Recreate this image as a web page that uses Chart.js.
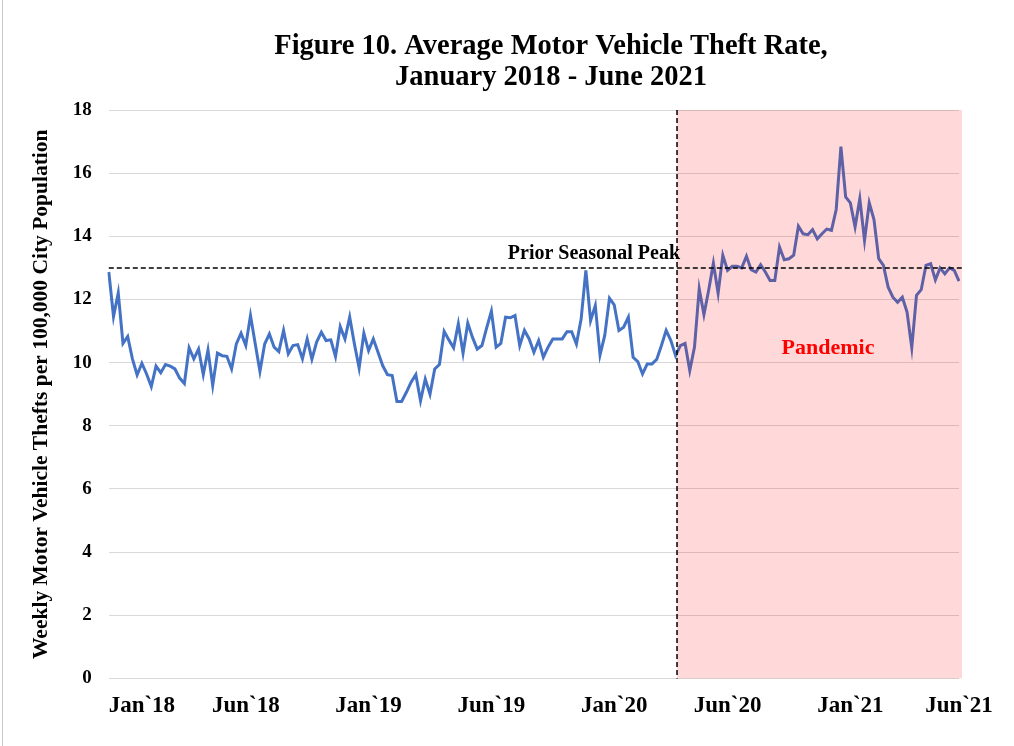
<!DOCTYPE html>
<html>
<head>
<meta charset="utf-8">
<script src="https://cdn.jsdelivr.net/npm/chart.js@4.4.1/dist/chart.umd.min.js"></script>
<style>
  html, body { margin: 0; padding: 0; background: #fff; }
  #wrap { position: relative; width: 1014px; height: 746px; }
</style>
</head>
<body>
<div id="wrap"><canvas id="theftChart"></canvas></div>
<script>
// weekly rate, Jan 2018 - Jun 2021
const rates = [
  12.87, 11.46, 12.21, 10.61, 10.83, 10.12, 9.61, 9.98, 9.64, 9.24,
  9.89, 9.68, 9.94, 9.89, 9.80, 9.51, 9.34, 10.47, 10.12, 10.43,
  9.62, 10.40, 9.28, 10.30, 10.22, 10.20, 9.80, 10.59, 10.93, 10.54,
  11.49, 10.60, 9.72, 10.59, 10.91, 10.49, 10.35, 11.02, 10.28, 10.54,
  10.57, 10.12, 10.75, 10.11, 10.65, 10.96, 10.70, 10.72, 10.19, 11.14,
  10.75, 11.44, 10.59, 9.83, 10.93, 10.38, 10.75, 10.33, 9.90, 9.62,
  9.59, 8.77, 8.77, 9.06, 9.38, 9.62, 8.79, 9.48, 9.00, 9.80,
  9.94, 10.99, 10.72, 10.47, 11.23, 10.30, 11.25, 10.80, 10.43, 10.54,
  11.10, 11.63, 10.49, 10.61, 11.44, 11.42, 11.49, 10.54, 11.02, 10.75,
  10.33, 10.70, 10.17, 10.49, 10.75, 10.75, 10.75, 10.98, 10.98, 10.59,
  11.38, 12.92, 11.33, 11.81, 10.24, 10.86, 12.04, 11.83, 11.02, 11.12,
  11.44, 10.17, 10.03, 9.64, 9.96, 9.96, 10.10, 10.54, 11.02, 10.70,
  10.22, 10.54, 10.61, 9.75, 10.49, 12.34, 11.52, 12.29, 13.15, 12.20,
  13.40, 12.92, 13.05, 13.05, 13.00, 13.37, 12.94, 12.87, 13.10, 12.87,
  12.60, 12.60, 13.66, 13.26, 13.29, 13.40, 14.32, 14.08, 14.05, 14.21,
  13.92, 14.08, 14.23, 14.19, 14.85, 16.84, 15.25, 15.06, 14.30, 15.19,
  13.87, 15.06, 14.53, 13.29, 13.08, 12.39, 12.07, 11.91, 12.07, 11.60,
  10.47, 12.13, 12.31, 13.08, 13.13, 12.62, 13.00, 12.81, 13.00, 12.92,
  12.58
];

const tickLabels = ['Jan`18', 'Jun`18', 'Jan`19', 'Jun`19', 'Jan`20', 'Jun`20', 'Jan`21', 'Jun`21'];
const tickWeeks = [7, 29, 55, 81, 107, 131, 157, 180];

const priorPeak = 13;
const pandemicWeek = 120.3;
const pandemicLabelY = 10.45;

const titleLines = ['Figure 10. Average Motor Vehicle Theft Rate,', 'January 2018 - June 2021'];

const weeks = rates.map((_, i) => {
  const k = tickWeeks.indexOf(i);
  return k >= 0 ? tickLabels[k] : '';
});

const serif = "'Liberation Serif', 'Times New Roman', serif";

const overlays = {
  id: 'overlays',
  beforeDraw(chart) {
    // faint frame edge on the left of the original figure
    const ctx = chart.ctx;
    ctx.save();
    ctx.fillStyle = '#c8c8c8';
    ctx.fillRect(2, 0, 1, chart.height);
    ctx.restore();
  },
  afterDatasetsDraw(chart) {
    const { ctx, chartArea: a, scales: { x, y } } = chart;
    const px = x.getPixelForValue(pandemicWeek);
    const py = y.getPixelForValue(priorPeak);
    ctx.save();
    // shaded pandemic period
    ctx.fillStyle = 'rgba(255, 0, 0, 0.15)';
    ctx.fillRect(px, a.top, a.right + 3 - px, a.bottom - a.top);

    ctx.strokeStyle = '#000';
    ctx.lineWidth = 1.5;
    ctx.setLineDash([5, 3]);
    ctx.beginPath();
    ctx.moveTo(a.left, py);
    ctx.lineTo(a.right + 3, py);
    ctx.moveTo(px, a.top);
    ctx.lineTo(px, a.bottom);
    ctx.stroke();
    ctx.setLineDash([]);

    ctx.fillStyle = '#000';
    ctx.font = 'bold 20px ' + serif;
    ctx.textAlign = 'right';
    ctx.textBaseline = 'bottom';
    ctx.fillText('Prior Seasonal Peak', px + 3, py - 4);

    ctx.fillStyle = '#ff0000';
    ctx.font = 'bold 22px ' + serif;
    ctx.textAlign = 'center';
    ctx.textBaseline = 'middle';
    ctx.fillText('Pandemic', (px + a.right) / 2 + 10, y.getPixelForValue(pandemicLabelY));
    ctx.restore();
  },
  afterDraw(chart) {
    const ctx = chart.ctx;
    ctx.save();
    ctx.fillStyle = '#000';
    ctx.font = 'bold 28.5px ' + serif;
    ctx.textAlign = 'center';
    ctx.textBaseline = 'middle';
    titleLines.forEach((t, i) => ctx.fillText(t, chart.width / 2 + 44, 47 + i * 31));
    ctx.restore();
  }
};

new Chart(document.getElementById('theftChart'), {
  type: 'line',
  data: {
    labels: weeks,
    datasets: [{
      data: rates,
      borderColor: '#4472C4',
      borderWidth: 3,
      pointRadius: 0,
      tension: 0,
      fill: false
    }]
  },
  options: {
    responsive: true,
    maintainAspectRatio: false,
    animation: false,
    layout: { padding: { top: 110, left: 27, right: 55, bottom: 12 } },
    plugins: { legend: { display: false }, tooltip: { enabled: false } },
    scales: {
      x: {
        grid: { display: false, drawTicks: false },
        border: { display: false },
        ticks: {
          autoSkip: false, maxRotation: 0, minRotation: 0, padding: 14,
          color: '#000', font: { family: serif, size: 23, weight: 'bold' },
          callback: (v, i) => weeks[i]
        }
      },
      y: {
        min: 0, max: 18,
        grid: { color: '#d9d9d9', lineWidth: 1, drawTicks: false },
        border: { display: false },
        ticks: {
          stepSize: 2, padding: 17,
          color: '#000', font: { family: serif, size: 19, weight: 'bold' }
        },
        title: {
          display: true,
          text: 'Weekly Motor Vehicle Thefts per 100,000 City Population',
          color: '#000',
          font: { family: serif, size: 21.5, weight: 'bold' },
          padding: { top: 2, bottom: 1 }
        }
      }
    }
  },
  plugins: [overlays]
});
</script>
</body>
</html>
